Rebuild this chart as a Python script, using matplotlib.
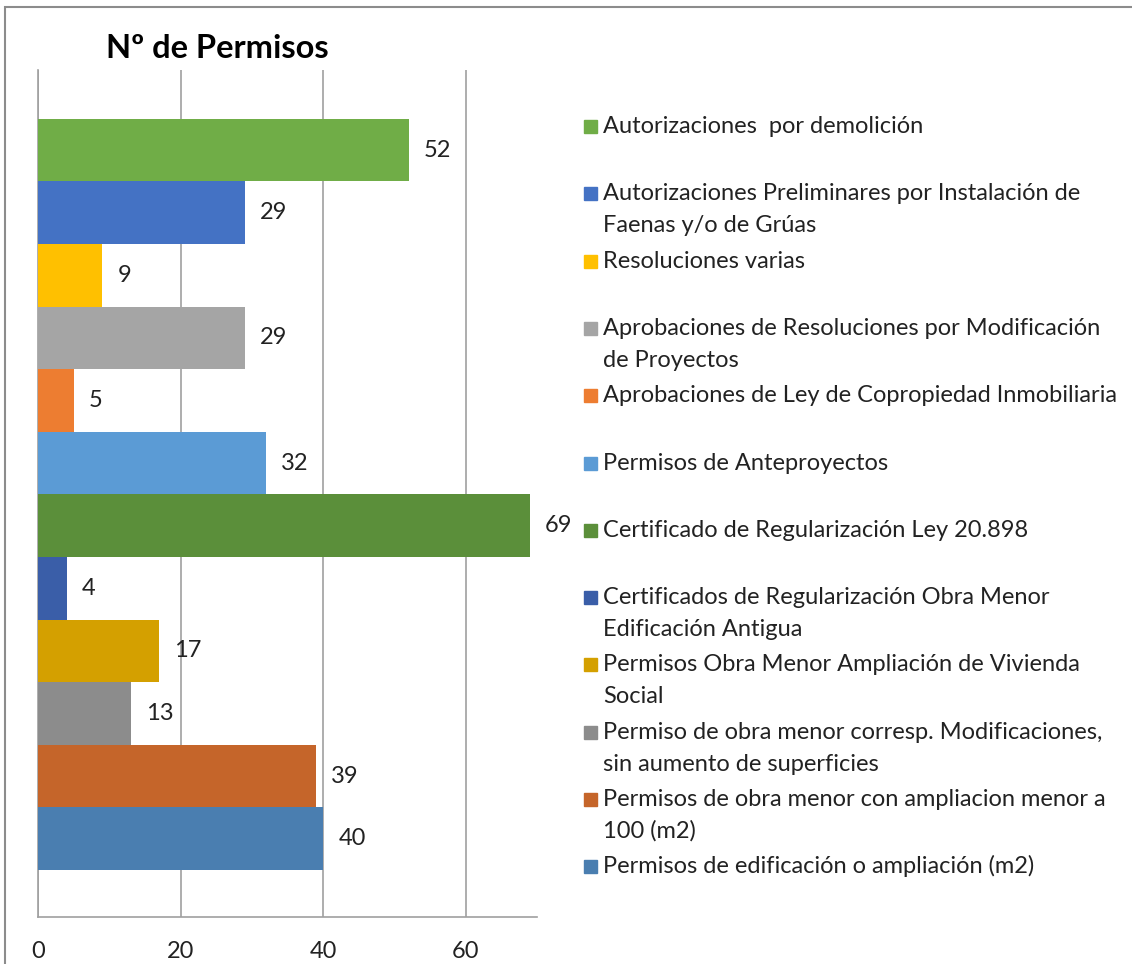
import matplotlib.pyplot as plt
from matplotlib.patches import Rectangle

# data, bottom bar first
categorias = [
    'Permisos de edificación o ampliación (m2)',
    'Permisos de obra menor con ampliacion menor a\n100 (m2)',
    'Permiso de obra menor corresp. Modificaciones,\nsin aumento de superficies',
    'Permisos Obra Menor Ampliación de Vivienda\nSocial',
    'Certificados de Regularización Obra Menor\nEdificación Antigua',
    'Certificado de Regularización Ley 20.898',
    'Permisos de Anteproyectos',
    'Aprobaciones de Ley de Copropiedad Inmobiliaria',
    'Aprobaciones de Resoluciones por Modificación\nde Proyectos',
    'Resoluciones varias',
    'Autorizaciones Preliminares por Instalación de\nFaenas y/o de Grúas',
    'Autorizaciones  por demolición',
]
valores = [40, 39, 13, 17, 4, 69, 32, 5, 29, 9, 29, 52]
colores = ['#4A7EB0', '#C5652A', '#8C8C8C', '#D4A000', '#3A5EA8', '#5B8F3A',
           '#5B9BD5', '#ED7D31', '#A5A5A5', '#FFC000', '#4472C4', '#70AD47']
xticks = [0, 20, 40, 60]

plt.rcParams['font.family'] = ['Lato', 'DejaVu Sans']

W, H = 1132, 964
fig = plt.figure(figsize=(W / 100, H / 100), dpi=100)
fig.patch.set_facecolor('white')

# outer chart frame
fig.patches.append(Rectangle((5 / W, -0.1), 1.2, (H - 7) / H + 0.1,
                             transform=fig.transFigure, fill=False,
                             edgecolor='#8C8C8C', linewidth=1.5))

ax = fig.add_axes([38 / W, (H - 917) / H, (537 - 38) / W, (917 - 70) / H])
n = len(valores)
pos = list(range(n))
bars = ax.barh(pos, valores, height=1.0, color=colores, zorder=3)
ax.bar_label(bars, labels=[str(v) for v in valores], padding=11,
             fontsize=17, color='#222222')

ax.set_xlim(0, 70)
ax.set_ylim(-0.5 - 0.75, n - 0.5 + 0.78)
ax.set_xticks(xticks)
ax.set_yticks([])
ax.tick_params(axis='x', length=0, labelsize=17, pad=17, colors='#222222')
ax.grid(axis='x', color='#A0A0A0', linewidth=1.2, zorder=0)
for s in ['top', 'right']:
    ax.spines[s].set_visible(False)
for s in ['left', 'bottom']:
    ax.spines[s].set_color('#A0A0A0')
    ax.spines[s].set_linewidth(1.2)

fig.text(217 / W, 1 - 58 / H, 'Nº de Permisos', ha='center', va='baseline',
         fontsize=23.5, fontweight='bold', color='black')

# legend, top entry first
y0, dy = 126, 67.3
for i, (lab, col) in enumerate(zip(categorias[::-1], colores[::-1])):
    yc = y0 + i * dy
    fig.patches.append(Rectangle((584 / W, 1 - (yc + 7) / H), 13 / W, 13 / H,
                                 transform=fig.transFigure, color=col))
    for k, linea in enumerate(lab.split('\n')):
        fig.text(603 / W, 1 - (yc + 7 + 32 * k) / H, linea, ha='left',
                 va='baseline', fontsize=17, color='#222222')

fig.savefig('out.png', dpi=100)
